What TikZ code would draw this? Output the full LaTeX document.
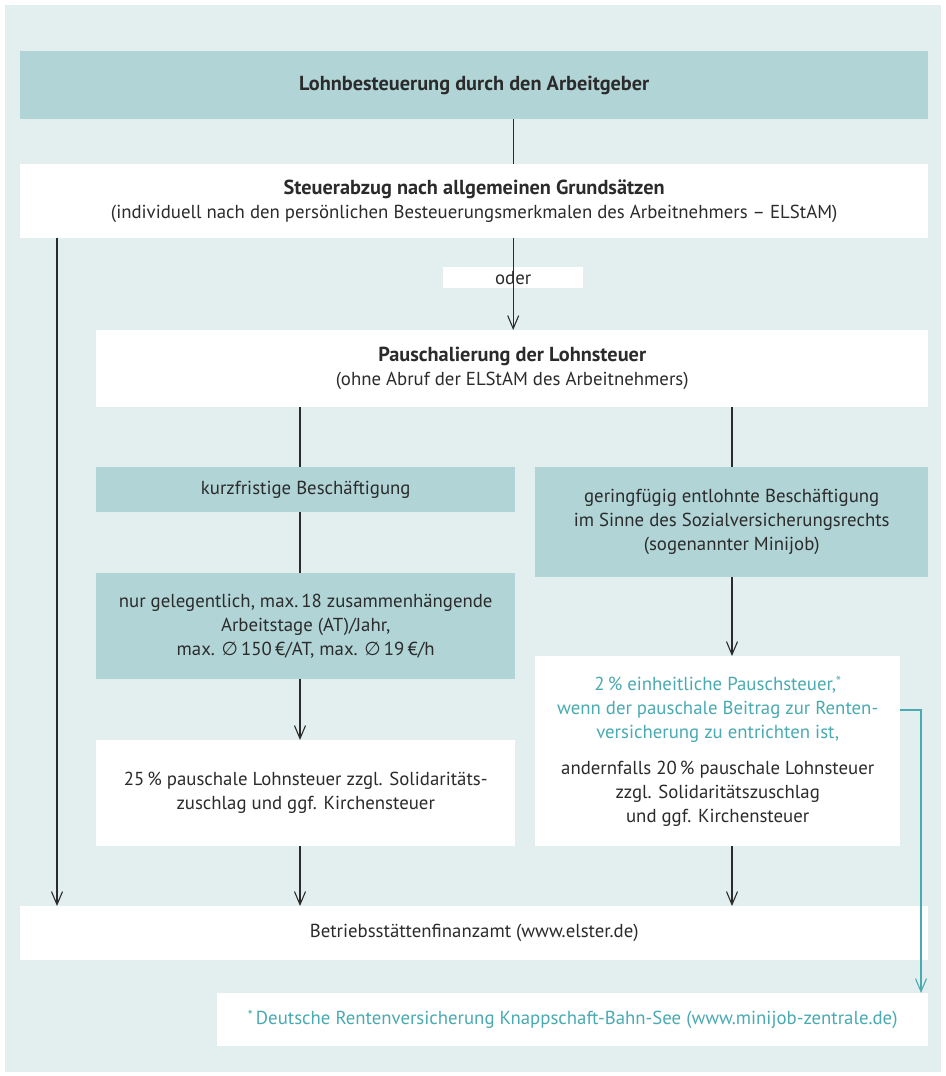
\documentclass[tikz,border=0pt]{standalone}
\usepackage{fontspec}
\setmainfont{PT Sans}
\newfontfamily\symfont{DejaVu Sans}
\usetikzlibrary{arrows.meta}
\definecolor{panel}{HTML}{E3EFEF}
\definecolor{tealbox}{HTML}{B1D4D6}
\definecolor{tealtext}{HTML}{4AAAB1}
\definecolor{ink}{HTML}{2B2B2B}
\newcommand{\dm}{{\symfont\char"2205}}
\newcommand{\fnmark}{\raisebox{0.45ex}{\fontsize{14}{14}\selectfont*}}
\newcommand{\headline}[1]{{\fontsize{20.3}{24}\selectfont\textbf{#1}}}

\begin{document}
\begin{tikzpicture}[x=1pt,y=-1pt,>={Straight Barb[length=13pt,width=11pt]},
  box/.style={fill=white,inner sep=0pt,align=center,anchor=north west,
    text=ink,font=\fontsize{18.8}{24}\selectfont},
  darkbox/.style={box,fill=tealbox},
  link/.style={draw=ink,line width=1.1pt},
  notelink/.style={draw=tealtext,line width=1.1pt}]
  \useasboundingbox (0,0) rectangle (945,1076);
  \fill[white] (0,0) rectangle (945,1076);
  \fill[panel] (5,5) rectangle (941,1072);
  % lanes for the connectors
  \coordinate (laneL) at (57,0);
  \coordinate (laneA) at (300,0);
  \coordinate (laneB) at (732,0);
  \coordinate (turn) at (921,710);
  % boxes
  \node[darkbox,minimum width=908pt,minimum height=68pt] (lohn) at (20,51)
    {\headline{Lohnbesteuerung durch den Arbeitgeber}};
  \node[box,minimum width=908pt,minimum height=74pt] (steuer) at (20,164)
    {\headline{Steuerabzug nach allgemeinen Grundsätzen}\\
     (individuell nach den persönlichen Besteuerungsmerkmalen des Arbeitnehmers – ELStAM)};
  \node[box,minimum width=140pt,minimum height=21pt] (oder) at (443,267) {oder};
  \node[box,minimum width=832pt,minimum height=77pt] (pausch) at (96,330)
    {\headline{Pauschalierung der Lohnsteuer}\\
     (ohne Abruf der ELStAM des Arbeitnehmers)};
  \node[darkbox,minimum width=419pt,minimum height=45pt] (kurz) at (96,467)
    {kurzfristige Beschäftigung};
  \node[darkbox,minimum width=393pt,minimum height=110pt] (mini) at (535,467)
    {geringfügig entlohnte Beschäftigung\\
     im Sinne des Sozialversicherungsrechts\\
     (sogenannter Minijob)};
  \node[darkbox,minimum width=419pt,minimum height=106pt] (gelegen) at (96,573)
    {nur gelegentlich, max.\,18 zusammenhängende\\
     Arbeitstage (AT)/Jahr,\\
     max. \dm\,150\,€/AT, max. \dm\,19\,€/h};
  \node[box,minimum width=419pt,minimum height=106pt] (satzA) at (96,740)
    {25\,\% pauschale Lohnsteuer zzgl. Solidaritäts-\\
     zuschlag und ggf. Kirchensteuer};
  \node[box,minimum width=365pt,minimum height=190pt] (satzB) at (535,656)
    {\textcolor{tealtext}{2\,\% einheitliche Pauschsteuer,\fnmark}\\
     \textcolor{tealtext}{wenn der pauschale Beitrag zur Renten-}\\
     \textcolor{tealtext}{versicherung zu entrichten ist,}\\[12pt]
     andernfalls 20\,\% pauschale Lohnsteuer\\
     zzgl. Solidaritätszuschlag\\
     und ggf. Kirchensteuer};
  \node[box,minimum width=908pt,minimum height=54pt] (amt) at (20,906)
    {Betriebsstättenfinanzamt (www.elster.de)};
  \node[box,minimum width=711pt,minimum height=53pt,text=tealtext] (note) at (217,993)
    {\fnmark\,Deutsche Rentenversicherung Knappschaft-Bahn-See (www.minijob-zentrale.de)};
  % connectors
  \draw[link] (lohn.south -| oder) -- (steuer.north -| oder);
  \draw[link,->] (steuer.south -| oder) -- (pausch.north -| oder);
  \draw[link,->] (steuer.south -| laneL) -- (amt.north -| laneL);
  \foreach \a/\b in {pausch/kurz,kurz/gelegen}
    \draw[link] (\a.south -| laneA) -- (\b.north -| laneA);
  \foreach \a/\b in {gelegen/satzA,satzA/amt}
    \draw[link,->] (\a.south -| laneA) -- (\b.north -| laneA);
  \draw[link] (pausch.south -| laneB) -- (mini.north -| laneB);
  \foreach \a/\b in {mini/satzB,satzB/amt}
    \draw[link,->] (\a.south -| laneB) -- (\b.north -| laneB);
  \draw[notelink,->] (satzB.east |- turn) -- (turn) -- (note.north -| turn);
\end{tikzpicture}
\end{document}
